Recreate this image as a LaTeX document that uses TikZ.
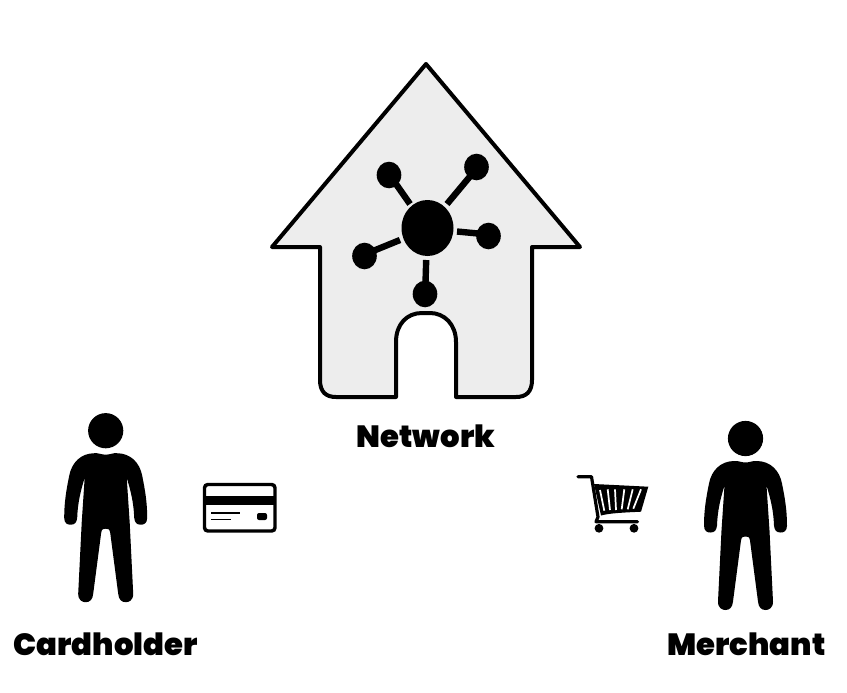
\documentclass[tikz,border=0pt]{standalone}
\usepackage{fontspec}
\setmainfont{Poppins}[BoldFont={Poppins Black}]
\begin{document}
\begin{tikzpicture}[x=0.75pt,y=-0.75pt,
  lbl/.style={font=\bfseries\fontsize{23pt}{26pt}\selectfont,text=black,inner sep=0pt,anchor=base},
  house/.style={draw=black,fill=black!7,line width=3pt,line join=round},
  spoke/.style={draw=black,line width=4.8pt},
  blob/.style={fill=black},
  slit/.style={draw=white,line width=1.3pt}]
\useasboundingbox (0,0) rectangle (847,693);
\fill[white] (0,0) rectangle (847,693);
% house
\draw[house] (426,64) -- (580,247) -- (532,247) -- (532,380)
  .. controls (532,392) and (526,397) .. (516,397) -- (456,397) -- (456,342)
  .. controls (456,324) and (444,313) .. (430,313) -- (422,313)
  .. controls (407,313) and (396,324) .. (396,342) -- (396,397) -- (336,397)
  .. controls (326,397) and (320,392) .. (320,380) -- (320,247) -- (272,247) -- cycle;
% network glyph
\fill[blob] (427.5,228) ellipse (26 and 28);
\fill[blob] (389,175) ellipse (12.3 and 13.3);
\fill[blob] (476.5,167) ellipse (12.3 and 13.3);
\fill[blob] (488.5,236) ellipse (12.3 and 13.3);
\fill[blob] (364.5,256) ellipse (12.3 and 13.3);
\fill[blob] (425,294) ellipse (12.3 and 13.3);
\draw[spoke] (396,184) -- (410,204);
\draw[spoke] (472,174) -- (447,204);
\draw[spoke] (457,231.500) -- (478,233.500);
\draw[spoke] (400,240) -- (373,251);
\draw[spoke] (426.200,260) -- (425.500,283);
% persons
\foreach \hx/\hy in {105.7/430.7, 745.5/438.5}{
\begin{scope}[shift={(\hx,\hy)}]
\fill (0,0) circle[radius=17.6];
\fill (0,24) .. controls (-4,24) and (-8,22) .. (-11,22.500)
  .. controls (-25,22.500) and (-34,32) .. (-36.500,45)
  .. controls (-39.500,60) and (-41.500,72) .. (-41.500,87)
  .. controls (-41.500,93) and (-38,94) .. (-35,94)
  .. controls (-31,94) and (-29,92) .. (-28.500,87)
  .. controls (-28,72) and (-25,60) .. (-21,47)
  -- (-24,92) -- (-27.500,163)
  .. controls (-27.500,170) and (-23,171.500) .. (-20,171.500)
  .. controls (-16,171.500) and (-13,169) .. (-12.500,163)
  -- (-4.500,102) .. controls (-4,98) and (-2,98) .. (0,98)
  .. controls (2,98) and (4,98) .. (4.500,102)
  -- (12.500,163)
  .. controls (13,169) and (16,171.500) .. (20,171.500)
  .. controls (23,171.500) and (27.500,170) .. (27.500,163)
  -- (24,92) -- (21,47)
  .. controls (25,60) and (28,72) .. (28.500,87)
  .. controls (29,92) and (31,94) .. (35,94)
  .. controls (38,94) and (41.500,93) .. (41.500,87)
  .. controls (41.500,72) and (39.500,60) .. (36.500,45)
  .. controls (34,32) and (25,22.500) .. (11,22.500)
  .. controls (8,22) and (4,24) .. (0,24) -- cycle;
\end{scope}}
% card
\draw[fill=white,line width=2.6pt,rounded corners=2.5pt] (204.500,484.500) rectangle (275,531);
\fill (204,496) rectangle (275,505);
\fill[rounded corners=1.5pt] (257,513) rectangle (267,520);
\draw[line width=1pt] (211,513) -- (240,513);
\draw[line width=1pt] (211,519.500) -- (231,519.500);
% cart
\draw[line width=2.4pt,line cap=round,line join=round] (578,476.700) -- (591.500,476.700) -- (598,517) -- (596,521.700) -- (637.500,521.700);
\fill (594,484) -- (648.300,486.700) -- (641,511.700) .. controls (625,512.500) and (610,513) .. (601,515.500) -- cycle;
\draw[slit] (600,490) -- (604.300,510.700);
\draw[slit] (607.700,489.300) -- (610,510);
\draw[slit] (615,489.300) -- (616,510);
\draw[slit] (624.300,489.300) -- (621.700,509.300);
\draw[slit] (632.700,489.300) -- (627.700,509.300);
\draw[slit] (641,489.300) -- (633.300,508.700);
\fill (599,528.300) circle[radius=4.400];
\fill (634,528.300) circle[radius=4.400];
% labels
\node[lbl] (network) at (426,447) {Network};
\node[lbl] (cardholder) at (105.500,655) {Cardholder};
\node[lbl] (merchant) at (746.500,655) {Merchant};
\end{tikzpicture}
\end{document}
